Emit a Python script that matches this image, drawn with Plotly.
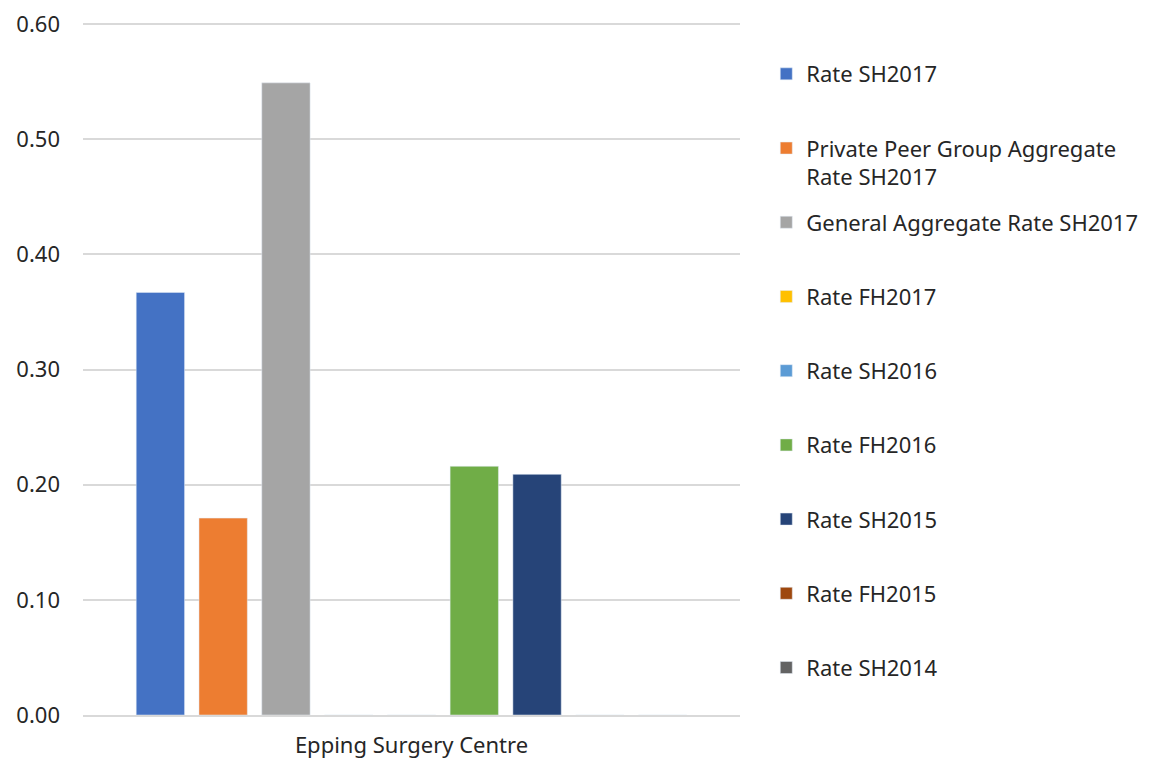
import plotly.graph_objects as go

category = ['Epping Surgery Centre']

series_names = [
    'Rate SH2017',
    'Private Peer Group Aggregate<br>Rate SH2017',
    'General Aggregate Rate SH2017',
    'Rate FH2017',
    'Rate SH2016',
    'Rate FH2016',
    'Rate SH2015',
    'Rate FH2015',
    'Rate SH2014',
]
series_values = [0.367, 0.171, 0.549, 0.0, 0.0, 0.216, 0.209, 0.0, 0.0]
colors = [
    '#4472C4', '#ED7D31', '#A5A5A5', '#FFC000', '#5B9BD5',
    '#70AD47', '#264478', '#9E480E', '#636363',
]

fig = go.Figure()

legends = {}
for i, (name, val, col) in enumerate(zip(series_names, series_values, colors)):
    key = 'legend' if i == 0 else f'legend{i + 1}'
    fig.add_trace(go.Bar(
        name=name,
        x=category,
        y=[val],
        marker_color=col,
        legend=key,
        showlegend=True,
    ))
    # one small legend per entry so the spacing stays even like the original
    legends[key] = dict(
        x=1.04,
        xanchor='left',
        y=1.0 - (30 + 74.1 * i) / 691,
        yanchor='top',
        valign='top',
        font=dict(size=22, color='#262626'),
        itemwidth=30,
        bgcolor='rgba(0,0,0,0)',
        visible=True,
    )

fig.update_layout(
    width=1150,
    height=758,
    margin=dict(l=75, r=418, t=15, b=51),
    paper_bgcolor='white',
    plot_bgcolor='white',
    showlegend=True,
    barmode='group',
    bargap=0.14,
    bargroupgap=0.23,
    font=dict(family='Noto Sans', size=22, color='#262626'),
    yaxis=dict(
        range=[0, 0.601],
        dtick=0.1,
        tickformat='.2f',
        gridcolor='#D9D9D9',
        gridwidth=2,
        zeroline=False,
        showline=False,
        ticks='',
        ticklabelstandoff=22,
        ticklabeloverflow='allow',
        automargin=False,
    ),
    xaxis=dict(
        showline=True,
        linecolor='#D9D9D9',
        linewidth=2,
        ticks='',
        ticklabelstandoff=10,
        tickfont=dict(size=22),
        automargin=False,
    ),
    **legends,
)

fig.write_html('out.html')
